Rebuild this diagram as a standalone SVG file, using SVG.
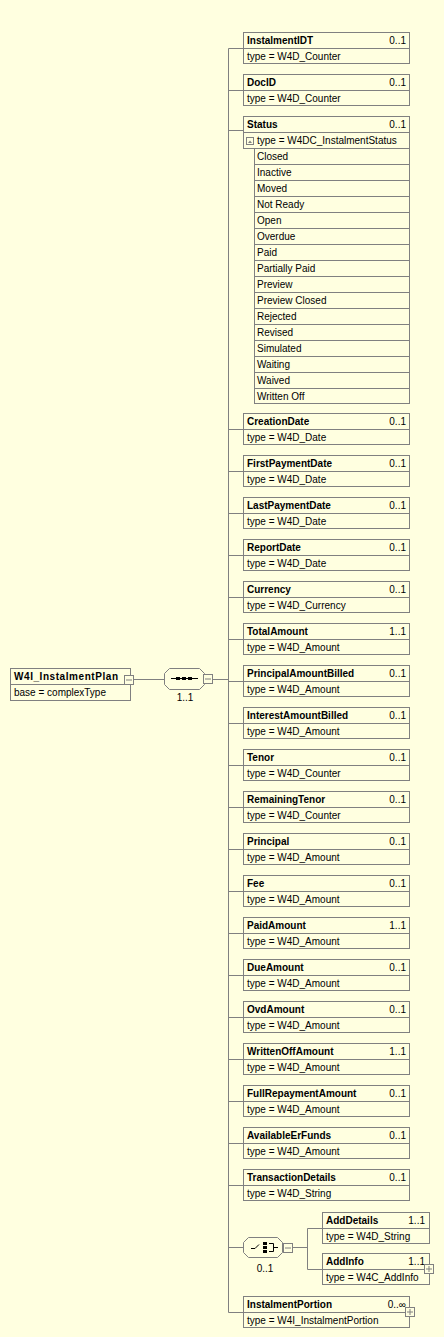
<svg xmlns="http://www.w3.org/2000/svg" width="444" height="1337" viewBox="0 0 444 1337">
<style>
.box{fill:#FFFFE0;stroke:#808080;stroke-width:1}
.div{stroke:#808080;stroke-width:1}
.con{fill:none;stroke:#808080;stroke-width:1}
.h{font-family:"Liberation Sans",Arial,sans-serif;font-weight:bold;font-size:10px;fill:#000}
.t{font-family:"Liberation Sans",Arial,sans-serif;font-size:10px;fill:#000}
.m{font-family:"Liberation Sans",Arial,sans-serif;font-size:10px;fill:#000;text-anchor:end}
.btn{fill:#FFFFE0;stroke:#808080;stroke-width:1}
.sym{stroke:#000;stroke-width:1;fill:none}
</style>
<rect x="0" y="0" width="444" height="1337" fill="#FFFFE0"/>
<g id="connectors">
<path class="con" d="M134,679.5H164M213,679.5H228.5M228.5,48.5V1312.5"/>
<path class="con" d="M228.5,48.5H243M228.5,90.5H243M228.5,130.5H243M228.5,429.5H243M228.5,471.5H243M228.5,513.5H243M228.5,555.5H243M228.5,597.5H243M228.5,639.5H243M228.5,681.5H243M228.5,723.5H243M228.5,765.5H243M228.5,807.5H243M228.5,849.5H243M228.5,891.5H243M228.5,933.5H243M228.5,975.5H243M228.5,1017.5H243M228.5,1059.5H243M228.5,1101.5H243M228.5,1143.5H243M228.5,1185.5H243M228.5,1247.5H243M228.5,1312.5H243"/>
<path class="con" d="M292,1247.5H307.5M307.5,1228.5V1269.5M307.5,1228.5H322M307.5,1269.5H322"/>
</g>
<g id="n-W4I_InstalmentPlan">
<rect class="box" x="10.5" y="668.5" width="120" height="32"/>
<line class="div" x1="10" y1="684.5" x2="131" y2="684.5"/>
<text class="h" x="14" y="680" textLength="104" lengthAdjust="spacing">W4I_InstalmentPlan</text>
<text class="t" x="14" y="696">base = complexType</text>
<rect class="btn" x="124.5" y="675.5" width="9" height="9"/>
<line class="div" x1="126" y1="680" x2="132" y2="680"/>
</g>
<g id="n-sequence">
<polygon class="btn" points="169.5,668.5 199.5,668.5 204.5,673.5 204.5,684.5 199.5,689.5 169.5,689.5 164.5,684.5 164.5,673.5"/>
<line class="sym" x1="171" y1="678.5" x2="198" y2="678.5"/>
<rect x="176" y="677" width="4" height="3" fill="#000"/>
<rect x="182" y="677" width="4" height="3" fill="#000"/>
<rect x="188" y="677" width="4" height="3" fill="#000"/>
<rect class="btn" x="203.5" y="674.5" width="9" height="9"/>
<line class="div" x1="205" y1="679" x2="211" y2="679"/>
<text class="t" x="185" y="701" text-anchor="middle">1..1</text>
</g>
<g id="n-InstalmentIDT"><rect class="box" x="243.5" y="32.5" width="166" height="31"/><line class="div" x1="243" y1="48.5" x2="410" y2="48.5"/><text class="h" x="247" y="44">InstalmentIDT</text><text class="m" x="406" y="44">0..1</text><text class="t" x="247" y="59.5">type = W4D_Counter</text></g>
<g id="n-DocID"><rect class="box" x="243.5" y="74.5" width="166" height="31"/><line class="div" x1="243" y1="90.5" x2="410" y2="90.5"/><text class="h" x="247" y="86">DocID</text><text class="m" x="406" y="86">0..1</text><text class="t" x="247" y="101.5">type = W4D_Counter</text></g>
<g id="n-Status">
<rect class="box" x="243.5" y="116.5" width="166" height="16"/>
<text class="h" x="247" y="128">Status</text><text class="m" x="406" y="128">0..1</text>
<rect class="box" x="243.5" y="132.5" width="166" height="16"/>
<rect class="btn" x="246.5" y="137.5" width="7" height="7"/>
<polygon points="248,143 252,143 250,140.5" fill="#808080"/>
<text class="t" x="257" y="144">type = W4DC_InstalmentStatus</text>
<rect class="box" x="254.5" y="148.5" width="155" height="16"/><text class="t" x="257" y="160">Closed</text>
<rect class="box" x="254.5" y="164.5" width="155" height="16"/><text class="t" x="257" y="176">Inactive</text>
<rect class="box" x="254.5" y="180.5" width="155" height="16"/><text class="t" x="257" y="192">Moved</text>
<rect class="box" x="254.5" y="196.5" width="155" height="16"/><text class="t" x="257" y="208">Not Ready</text>
<rect class="box" x="254.5" y="212.5" width="155" height="16"/><text class="t" x="257" y="224">Open</text>
<rect class="box" x="254.5" y="228.5" width="155" height="16"/><text class="t" x="257" y="240">Overdue</text>
<rect class="box" x="254.5" y="244.5" width="155" height="16"/><text class="t" x="257" y="256">Paid</text>
<rect class="box" x="254.5" y="260.5" width="155" height="16"/><text class="t" x="257" y="272">Partially Paid</text>
<rect class="box" x="254.5" y="276.5" width="155" height="16"/><text class="t" x="257" y="288">Preview</text>
<rect class="box" x="254.5" y="292.5" width="155" height="16"/><text class="t" x="257" y="304">Preview Closed</text>
<rect class="box" x="254.5" y="308.5" width="155" height="16"/><text class="t" x="257" y="320">Rejected</text>
<rect class="box" x="254.5" y="324.5" width="155" height="16"/><text class="t" x="257" y="336">Revised</text>
<rect class="box" x="254.5" y="340.5" width="155" height="16"/><text class="t" x="257" y="352">Simulated</text>
<rect class="box" x="254.5" y="356.5" width="155" height="16"/><text class="t" x="257" y="368">Waiting</text>
<rect class="box" x="254.5" y="372.5" width="155" height="16"/><text class="t" x="257" y="384">Waived</text>
<rect class="box" x="254.5" y="388.5" width="155" height="15"/><text class="t" x="257" y="400">Written Off</text>
</g>
<g id="n-CreationDate"><rect class="box" x="243.5" y="413.5" width="166" height="31"/><line class="div" x1="243" y1="429.5" x2="410" y2="429.5"/><text class="h" x="247" y="425">CreationDate</text><text class="m" x="406" y="425">0..1</text><text class="t" x="247" y="440.5">type = W4D_Date</text></g>
<g id="n-FirstPaymentDate"><rect class="box" x="243.5" y="455.5" width="166" height="31"/><line class="div" x1="243" y1="471.5" x2="410" y2="471.5"/><text class="h" x="247" y="467">FirstPaymentDate</text><text class="m" x="406" y="467">0..1</text><text class="t" x="247" y="482.5">type = W4D_Date</text></g>
<g id="n-LastPaymentDate"><rect class="box" x="243.5" y="497.5" width="166" height="31"/><line class="div" x1="243" y1="513.5" x2="410" y2="513.5"/><text class="h" x="247" y="509">LastPaymentDate</text><text class="m" x="406" y="509">0..1</text><text class="t" x="247" y="524.5">type = W4D_Date</text></g>
<g id="n-ReportDate"><rect class="box" x="243.5" y="539.5" width="166" height="31"/><line class="div" x1="243" y1="555.5" x2="410" y2="555.5"/><text class="h" x="247" y="551">ReportDate</text><text class="m" x="406" y="551">0..1</text><text class="t" x="247" y="566.5">type = W4D_Date</text></g>
<g id="n-Currency"><rect class="box" x="243.5" y="581.5" width="166" height="31"/><line class="div" x1="243" y1="597.5" x2="410" y2="597.5"/><text class="h" x="247" y="593">Currency</text><text class="m" x="406" y="593">0..1</text><text class="t" x="247" y="608.5">type = W4D_Currency</text></g>
<g id="n-TotalAmount"><rect class="box" x="243.5" y="623.5" width="166" height="31"/><line class="div" x1="243" y1="639.5" x2="410" y2="639.5"/><text class="h" x="247" y="635">TotalAmount</text><text class="m" x="406" y="635">1..1</text><text class="t" x="247" y="650.5">type = W4D_Amount</text></g>
<g id="n-PrincipalAmountBilled"><rect class="box" x="243.5" y="665.5" width="166" height="31"/><line class="div" x1="243" y1="681.5" x2="410" y2="681.5"/><text class="h" x="247" y="677">PrincipalAmountBilled</text><text class="m" x="406" y="677">0..1</text><text class="t" x="247" y="692.5">type = W4D_Amount</text></g>
<g id="n-InterestAmountBilled"><rect class="box" x="243.5" y="707.5" width="166" height="31"/><line class="div" x1="243" y1="723.5" x2="410" y2="723.5"/><text class="h" x="247" y="719">InterestAmountBilled</text><text class="m" x="406" y="719">0..1</text><text class="t" x="247" y="734.5">type = W4D_Amount</text></g>
<g id="n-Tenor"><rect class="box" x="243.5" y="749.5" width="166" height="31"/><line class="div" x1="243" y1="765.5" x2="410" y2="765.5"/><text class="h" x="247" y="761">Tenor</text><text class="m" x="406" y="761">0..1</text><text class="t" x="247" y="776.5">type = W4D_Counter</text></g>
<g id="n-RemainingTenor"><rect class="box" x="243.5" y="791.5" width="166" height="31"/><line class="div" x1="243" y1="807.5" x2="410" y2="807.5"/><text class="h" x="247" y="803">RemainingTenor</text><text class="m" x="406" y="803">0..1</text><text class="t" x="247" y="818.5">type = W4D_Counter</text></g>
<g id="n-Principal"><rect class="box" x="243.5" y="833.5" width="166" height="31"/><line class="div" x1="243" y1="849.5" x2="410" y2="849.5"/><text class="h" x="247" y="845">Principal</text><text class="m" x="406" y="845">0..1</text><text class="t" x="247" y="860.5">type = W4D_Amount</text></g>
<g id="n-Fee"><rect class="box" x="243.5" y="875.5" width="166" height="31"/><line class="div" x1="243" y1="891.5" x2="410" y2="891.5"/><text class="h" x="247" y="887">Fee</text><text class="m" x="406" y="887">0..1</text><text class="t" x="247" y="902.5">type = W4D_Amount</text></g>
<g id="n-PaidAmount"><rect class="box" x="243.5" y="917.5" width="166" height="31"/><line class="div" x1="243" y1="933.5" x2="410" y2="933.5"/><text class="h" x="247" y="929">PaidAmount</text><text class="m" x="406" y="929">1..1</text><text class="t" x="247" y="944.5">type = W4D_Amount</text></g>
<g id="n-DueAmount"><rect class="box" x="243.5" y="959.5" width="166" height="31"/><line class="div" x1="243" y1="975.5" x2="410" y2="975.5"/><text class="h" x="247" y="971">DueAmount</text><text class="m" x="406" y="971">0..1</text><text class="t" x="247" y="986.5">type = W4D_Amount</text></g>
<g id="n-OvdAmount"><rect class="box" x="243.5" y="1001.5" width="166" height="31"/><line class="div" x1="243" y1="1017.5" x2="410" y2="1017.5"/><text class="h" x="247" y="1013">OvdAmount</text><text class="m" x="406" y="1013">0..1</text><text class="t" x="247" y="1028.5">type = W4D_Amount</text></g>
<g id="n-WrittenOffAmount"><rect class="box" x="243.5" y="1043.5" width="166" height="31"/><line class="div" x1="243" y1="1059.5" x2="410" y2="1059.5"/><text class="h" x="247" y="1055">WrittenOffAmount</text><text class="m" x="406" y="1055">1..1</text><text class="t" x="247" y="1070.5">type = W4D_Amount</text></g>
<g id="n-FullRepaymentAmount"><rect class="box" x="243.5" y="1085.5" width="166" height="31"/><line class="div" x1="243" y1="1101.5" x2="410" y2="1101.5"/><text class="h" x="247" y="1097">FullRepaymentAmount</text><text class="m" x="406" y="1097">0..1</text><text class="t" x="247" y="1112.5">type = W4D_Amount</text></g>
<g id="n-AvailableErFunds"><rect class="box" x="243.5" y="1127.5" width="166" height="31"/><line class="div" x1="243" y1="1143.5" x2="410" y2="1143.5"/><text class="h" x="247" y="1139">AvailableErFunds</text><text class="m" x="406" y="1139">0..1</text><text class="t" x="247" y="1154.5">type = W4D_Amount</text></g>
<g id="n-TransactionDetails"><rect class="box" x="243.5" y="1169.5" width="166" height="31"/><line class="div" x1="243" y1="1185.5" x2="410" y2="1185.5"/><text class="h" x="247" y="1181">TransactionDetails</text><text class="m" x="406" y="1181">0..1</text><text class="t" x="247" y="1196.5">type = W4D_String</text></g>
<g id="n-choice">
<polygon class="btn" points="248.5,1237.5 277.5,1237.5 282.5,1242.5 282.5,1252.5 277.5,1257.5 248.5,1257.5 243.5,1252.5 243.5,1242.5"/>
<path class="sym" d="M251,1248.5H255L259,1244.5"/>
<rect x="263" y="1242" width="4" height="3" fill="#000"/>
<rect x="263" y="1246" width="4" height="3" fill="#000"/>
<rect x="263" y="1250" width="4" height="3" fill="#000"/>
<path class="sym" d="M269,1243.5H273.5V1251.5H269M273.5,1247.5H278"/>
<rect class="btn" x="283.5" y="1243.5" width="9" height="9"/>
<line class="div" x1="285" y1="1248" x2="291" y2="1248"/>
<text class="t" x="265" y="1272" text-anchor="middle">0..1</text>
</g>
<g id="n-AddDetails"><rect class="box" x="322.5" y="1212.5" width="107" height="31"/><line class="div" x1="322" y1="1228.5" x2="430" y2="1228.5"/><text class="h" x="326" y="1224">AddDetails</text><text class="m" x="425" y="1224">1..1</text><text class="t" x="326" y="1239.5">type = W4D_String</text></g>
<g id="n-AddInfo"><rect class="box" x="322.5" y="1253.5" width="107" height="31"/><line class="div" x1="322" y1="1269.5" x2="430" y2="1269.5"/><text class="h" x="326" y="1265">AddInfo</text><text class="m" x="425" y="1265">1..1</text><text class="t" x="326" y="1280.5">type = W4C_AddInfo</text>
<rect class="btn" x="424.5" y="1264.5" width="9" height="9"/><path class="div" d="M426,1269H432M429,1266V1272"/></g>
<g id="n-InstalmentPortion"><rect class="box" x="243.5" y="1296.5" width="166" height="31"/><line class="div" x1="243" y1="1312.5" x2="410" y2="1312.5"/><text class="h" x="247" y="1308">InstalmentPortion</text><text class="m" x="406" y="1308">0..∞</text><text class="t" x="247" y="1323.5">type = W4I_InstalmentPortion</text>
<rect class="btn" x="405.5" y="1307.5" width="9" height="9"/><path class="div" d="M407,1312H413M410,1309V1315"/></g>
</svg>
